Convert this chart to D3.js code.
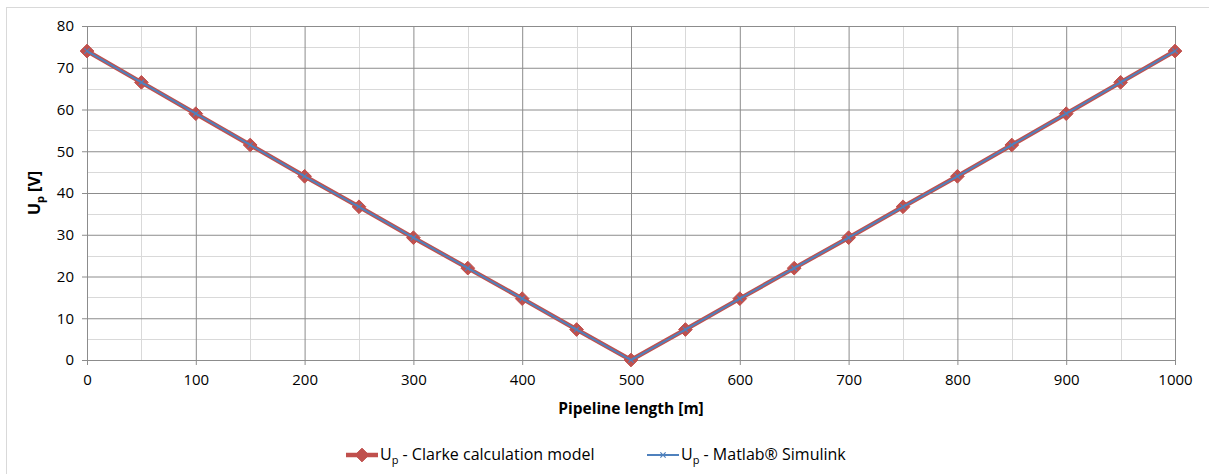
<!DOCTYPE html>
<html>
<head>
<meta charset="utf-8">
<script src="https://cdn.jsdelivr.net/npm/d3@7"></script>
<style>
  body { margin: 0; background: #fff; }
  svg { display: block; font-family: "Open Sans", Lato, sans-serif; }
</style>
</head>
<body>
<div id="chart"></div>
<script>
// data
const lengths = [0, 50, 100, 150, 200, 250, 300, 350, 400, 450, 500, 550, 600, 650, 700, 750, 800, 850, 900, 950, 1000];
const clarke = [74, 66.5, 59, 51.5, 44, 36.7, 29.3, 22, 14.7, 7.3, 0, 7.3, 14.7, 22, 29.3, 36.7, 44, 51.5, 59, 66.5, 74];
const simulink = [74, 66.5, 59, 51.5, 44, 36.7, 29.3, 22, 14.7, 7.3, 0, 7.3, 14.7, 22, 29.3, 36.7, 44, 51.5, 59, 66.5, 74];
const xTicks = [0, 100, 200, 300, 400, 500, 600, 700, 800, 900, 1000];
const yTicks = [0, 10, 20, 30, 40, 50, 60, 70, 80];

const width = 1209, height = 474;
const margin = { top: 26, right: 34, bottom: 114, left: 87 };

const svg = d3.select('#chart').append('svg')
    .attr('width', width)
    .attr('height', height);

// outer chart frame
svg.append('rect')
    .attr('x', 6.5).attr('y', 7.5)
    .attr('width', width - 6).attr('height', height - 6)
    .attr('fill', 'none')
    .attr('stroke', '#d9d9d9');

const xScale = d3.scaleLinear([0, 1000], [margin.left, width - margin.right]);
const yScale = d3.scaleLinear([0, 80], [height - margin.bottom, margin.top]);

// minor grid (light)
const grid = svg.append('g').attr('class', 'grid');
grid.selectAll('.vminor')
    .data(d3.range(50, 1000, 100))
    .join('line')
    .attr('x1', d => Math.round(xScale(d)) + 0.5).attr('x2', d => Math.round(xScale(d)) + 0.5)
    .attr('y1', yScale(80)).attr('y2', yScale(0))
    .attr('stroke', '#d9d9d9');
grid.selectAll('.hminor')
    .data(d3.range(5, 80, 10))
    .join('line')
    .attr('y1', d => Math.round(yScale(d)) + 0.5).attr('y2', d => Math.round(yScale(d)) + 0.5)
    .attr('x1', xScale(0)).attr('x2', xScale(1000))
    .attr('stroke', '#d9d9d9');

// major grid
svg.append('g')
    .attr('transform', `translate(0,${height - margin.bottom})`)
    .call(d3.axisBottom(xScale).tickValues(xTicks).tickSize(-(height - margin.top - margin.bottom)).tickFormat(''))
    .call(g => g.select('.domain').remove())
    .call(g => g.selectAll('line').attr('stroke', '#8c8c8c'));
svg.append('g')
    .attr('transform', `translate(${margin.left},0)`)
    .call(d3.axisLeft(yScale).tickValues(yTicks).tickSize(-(width - margin.left - margin.right)).tickFormat(''))
    .call(g => g.select('.domain').remove())
    .call(g => g.selectAll('line').attr('stroke', '#8c8c8c'));

// axes
const xAxis = svg.append('g')
    .attr('transform', `translate(0,${height - margin.bottom})`)
    .call(d3.axisBottom(xScale).tickValues(xTicks).tickFormat(d3.format('d')).tickSize(5).tickPadding(9).tickSizeOuter(0));
const yAxis = svg.append('g')
    .attr('transform', `translate(${margin.left},0)`)
    .call(d3.axisLeft(yScale).tickValues(yTicks).tickFormat(d3.format('d')).tickSize(5).tickPadding(8).tickSizeOuter(0));
[xAxis, yAxis].forEach(a => {
    a.select('.domain').attr('stroke', '#8c8c8c');
    a.selectAll('line').attr('stroke', '#8c8c8c');
    a.selectAll('text').attr('fill', '#000').style('font-size', '15px').style('font-family', '"Open Sans", sans-serif');
});

// axis titles
svg.append('text')
    .attr('x', xScale(500)).attr('y', 414)
    .attr('text-anchor', 'middle')
    .style('font-size', '15.5px').style('font-weight', 'bold')
    .text('Pipeline length [m]');
const yTitle = svg.append('text')
    .attr('transform', `translate(40,${(yScale(0) + yScale(80)) / 2}) rotate(-90)`)
    .attr('text-anchor', 'middle')
    .style('font-size', '16px').style('font-weight', 'bold');
yTitle.append('tspan').text('U');
yTitle.append('tspan').attr('dy', 4).style('font-size', '11px').text('p');
yTitle.append('tspan').attr('dy', -4).text(' [V]');

const line = d3.line()
    .x((d, i) => xScale(lengths[i]))
    .y(d => yScale(d));

const red = '#c0504d', blue = '#4f81bd';

// Clarke series
svg.append('path')
    .datum(clarke)
    .attr('d', line)
    .attr('fill', 'none')
    .attr('stroke', red)
    .attr('stroke-width', 4.5)
    .attr('stroke-linejoin', 'round');
const diamond = d3.symbol().type(d3.symbolDiamond2).size(120);
svg.append('g').selectAll('path')
    .data(clarke)
    .join('path')
    .attr('transform', (d, i) => `translate(${xScale(lengths[i])},${yScale(d)})`)
    .attr('d', diamond)
    .attr('fill', red)
    .attr('stroke', red);

// Simulink series
svg.append('path')
    .datum(simulink)
    .attr('d', line)
    .attr('fill', 'none')
    .attr('stroke', blue)
    .attr('stroke-width', 2);
const cross = d3.symbol().type(d3.symbolX).size(20);
svg.append('g').selectAll('path')
    .data(simulink)
    .join('path')
    .attr('transform', (d, i) => `translate(${xScale(lengths[i])},${yScale(d)})`)
    .attr('d', cross)
    .attr('fill', 'none')
    .attr('stroke', blue)
    .attr('stroke-width', 1.2);

// legend
const legend = svg.append('g').attr('transform', 'translate(0,455)');
const items = [
    { x: 346, color: red, w: 4.5, mark: diamond, name: ' - Clarke calculation model' },
    { x: 647, color: blue, w: 2, mark: cross, name: ' - Matlab® Simulink' }
];
items.forEach(it => {
    const g = legend.append('g').attr('transform', `translate(${it.x},0)`);
    g.append('line').attr('x1', 0).attr('x2', 32).attr('stroke', it.color).attr('stroke-width', it.w);
    if (it.color === red) {
        g.append('path').attr('transform', 'translate(16,0)').attr('d', it.mark).attr('fill', red).attr('stroke', red);
    } else {
        g.append('path').attr('transform', 'translate(16,0)').attr('d', it.mark).attr('fill', 'none').attr('stroke', blue).attr('stroke-width', 1.2);
    }
    const t = g.append('text').attr('x', 34).attr('y', 5).style('font-size', '16px');
    t.append('tspan').text('U');
    t.append('tspan').attr('dy', 4).style('font-size', '11px').text('p');
    t.append('tspan').attr('dy', -4).text(it.name);
});
</script>
</body>
</html>
